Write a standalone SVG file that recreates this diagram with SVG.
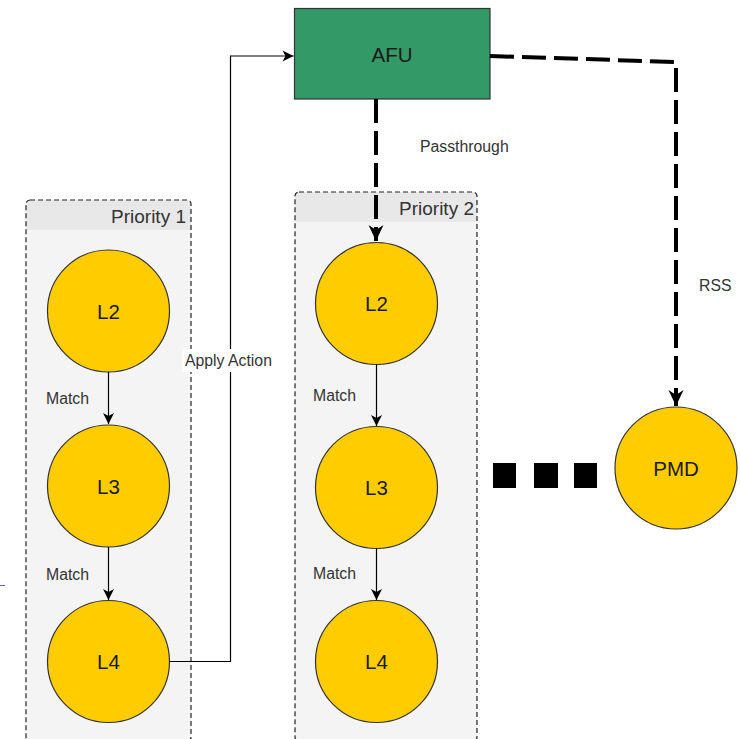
<svg xmlns="http://www.w3.org/2000/svg" width="740" height="739" viewBox="0 0 740 739">
  <defs>
    <marker id="arrowThin" markerUnits="userSpaceOnUse" markerWidth="14" markerHeight="12" viewBox="-12 -6 13 12" refX="0" refY="0" orient="auto">
      <path d="M0,0 L-11,-5.5 L-8,0 L-11,5.5 Z" fill="#000"/>
    </marker>
    <marker id="arrowBold" markerUnits="userSpaceOnUse" markerWidth="20" markerHeight="18" viewBox="-18 -9 19 18" refX="0" refY="0" orient="auto">
      <path d="M0,0 L-16,-7.5 L-11,0 L-16,7.5 Z" fill="#000"/>
    </marker>
  </defs>
  <style>
    .lane-body { fill: #f4f4f4; stroke: none; }
    .lane-head { fill: #e8e8e8; stroke: none; }
    .lane-border { fill: none; stroke: #222; stroke-width: 1.2; stroke-dasharray: 5 3; }
    .lane-title { font-family: "Liberation Sans", Arial, sans-serif; font-size: 19px; fill: #333; text-anchor: end; }
    .stage { fill: #ffcc00; stroke: #333; stroke-width: 1.2; }
    .stage-label { font-family: "Liberation Sans", Arial, sans-serif; font-size: 20.5px; fill: #1a1a1a; text-anchor: middle; }
    .afu { fill: #339966; stroke: #333; stroke-width: 1.2; }
    .label { font-family: "Liberation Sans", Arial, sans-serif; font-size: 15.8px; fill: #333; }
    .thin { fill: none; stroke: #000; stroke-width: 1.2; }
    .bold { fill: none; stroke: #000; stroke-width: 4; stroke-dasharray: 24 8; }
    .dot { fill: #000; }
  </style>

  <rect width="740" height="739" fill="#fff"/>

  <!-- Priority 1 lane -->
  <g id="priority1">
    <rect class="lane-body" x="26" y="200" width="165" height="545" rx="4"/>
    <path class="lane-head" d="M30,200 H187 Q191,200 191,204 V230 H26 V204 Q26,200 30,200 Z"/>
    <rect class="lane-border" x="26" y="200" width="165" height="541" rx="4"/>
    <text class="lane-title" x="186" y="223">Priority 1</text>
  </g>

  <!-- Priority 2 lane -->
  <g id="priority2">
    <rect class="lane-body" x="295" y="192" width="182" height="550" rx="4"/>
    <path class="lane-head" d="M299,192 H473 Q477,192 477,196 V222 H295 V196 Q295,192 299,192 Z"/>
    <rect class="lane-border" x="295" y="192" width="182" height="549" rx="4"/>
    <text class="lane-title" x="474" y="215">Priority 2</text>
  </g>

  <!-- Priority 1 stages -->
  <g id="p1-l2">
    <circle class="stage" cx="108.5" cy="311" r="61"/>
    <text class="stage-label" x="108.5" y="318.5">L2</text>
  </g>
  <g id="p1-l3">
    <circle class="stage" cx="108.5" cy="486" r="61"/>
    <text class="stage-label" x="108.5" y="493.5">L3</text>
  </g>
  <g id="p1-l4">
    <circle class="stage" cx="108.5" cy="661.5" r="61"/>
    <text class="stage-label" x="108.5" y="669">L4</text>
  </g>

  <!-- Priority 2 stages -->
  <g id="p2-l2">
    <circle class="stage" cx="376.5" cy="303.5" r="61"/>
    <text class="stage-label" x="376.5" y="311">L2</text>
  </g>
  <g id="p2-l3">
    <circle class="stage" cx="376.5" cy="487.5" r="61"/>
    <text class="stage-label" x="376.5" y="495">L3</text>
  </g>
  <g id="p2-l4">
    <circle class="stage" cx="376.5" cy="661.5" r="61"/>
    <text class="stage-label" x="376.5" y="669">L4</text>
  </g>

  <!-- AFU block -->
  <g id="afu">
    <rect class="afu" x="294.5" y="8.5" width="195.5" height="90.5"/>
    <text class="stage-label" x="392" y="62">AFU</text>
  </g>

  <!-- PMD -->
  <g id="pmd">
    <circle class="stage" cx="676" cy="468" r="61"/>
    <text class="stage-label" x="676" y="475.5">PMD</text>
  </g>

  <!-- ellipsis towards PMD -->
  <g id="ellipsis">
    <rect class="dot" x="493" y="463" width="23" height="25"/>
    <rect class="dot" x="534" y="463" width="24" height="25"/>
    <rect class="dot" x="574" y="463" width="23" height="25"/>
  </g>

  <!-- connectors -->
  <g id="connectors">
    <path class="thin" d="M108.5,372 V424" marker-end="url(#arrowThin)"/>
    <path class="thin" d="M108.5,547 V600" marker-end="url(#arrowThin)"/>
    <path class="thin" d="M376.5,364.5 V426" marker-end="url(#arrowThin)"/>
    <path class="thin" d="M376.5,548.5 V600" marker-end="url(#arrowThin)"/>
    <path class="thin" d="M169.5,661.5 H230.5 V56 H293.5" marker-end="url(#arrowThin)"/>
    <path class="bold" d="M376,99 V241" marker-end="url(#arrowBold)"/>
    <path class="bold" d="M490,56 L676,62 V406" marker-end="url(#arrowBold)"/>
  </g>

  <!-- connector labels -->
  <g id="labels">
    <text class="label" x="46" y="404">Match</text>
    <text class="label" x="46" y="580">Match</text>
    <text class="label" x="313" y="401">Match</text>
    <text class="label" x="313" y="579">Match</text>
    <rect x="182" y="349" width="95" height="23" fill="#fff"/>
    <text class="label" x="185" y="366">Apply Action</text>
    <text class="label" x="420" y="152">Passthrough</text>
    <text class="label" x="699" y="291">RSS</text>
  </g>

  <line x1="0" y1="585.5" x2="5" y2="585.5" stroke="#7a5a9a" stroke-width="1"/>
</svg>
